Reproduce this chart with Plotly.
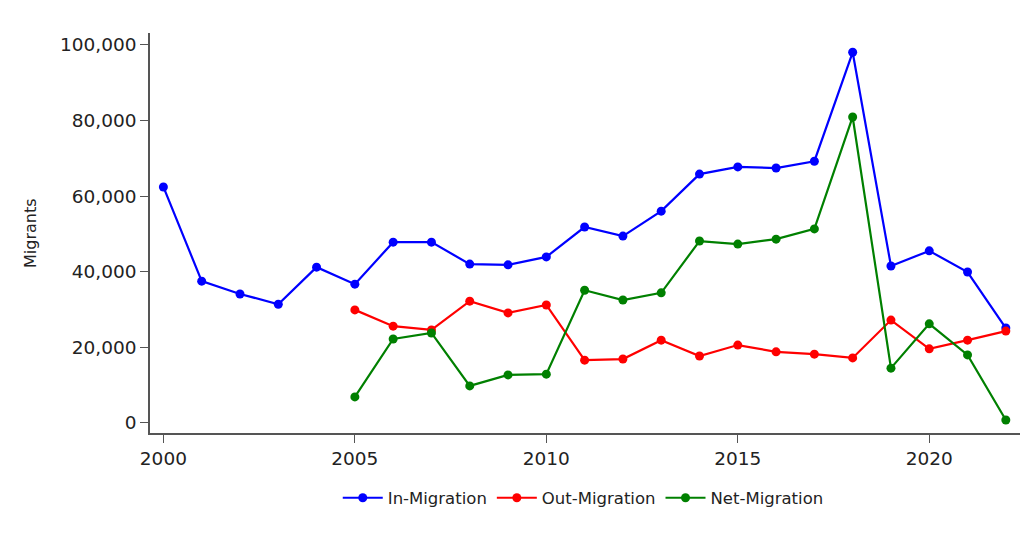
import plotly.graph_objects as go

years_in = list(range(2000, 2023))
in_migration = [62400, 37500, 34100, 31400, 41200, 36700, 47800, 47800, 42000, 41800,
                43900, 51800, 49400, 56000, 65800, 67700, 67400, 69200, 98000, 41500,
                45500, 39900, 25100]

years_out = list(range(2005, 2023))
out_migration = [29900, 25600, 24600, 32200, 29100, 31200, 16600, 16900, 21900, 17700,
                 20600, 18800, 18200, 17200, 27200, 19600, 21900, 24300]

net_migration = [6900, 22200, 23800, 9800, 12700, 12900, 35100, 32500, 34400, 48100,
                 47300, 48600, 51300, 80900, 14500, 26200, 18000, 800]

x_ticks = [2000, 2005, 2010, 2015, 2020]
y_ticks = [0, 20000, 40000, 60000, 80000, 100000]

FONT = "DejaVu Sans"

fig = go.Figure()
series = [
    ("In-Migration", years_in, in_migration, "#0000FF"),
    ("Out-Migration", years_out, out_migration, "#FF0000"),
    ("Net-Migration", years_out, net_migration, "#008000"),
]
for name, xs, ys, col in series:
    fig.add_trace(go.Scatter(
        x=xs, y=ys, name=name, mode="lines+markers",
        line=dict(color=col, width=2.2),
        marker=dict(color=col, size=9),
    ))

axis_col = "#555555"
fig.update_layout(
    width=1021, height=525,
    margin=dict(l=142, r=9, t=25, b=100),
    paper_bgcolor="white", plot_bgcolor="white",
    font=dict(family=FONT, color="#222222"),
    showlegend=True,
    legend=dict(orientation="h", x=0.498, xanchor="center", y=-0.1625, yanchor="middle",
                font=dict(size=16.5, family=FONT, color="#222222"), itemwidth=40,
                traceorder="normal"),
    xaxis=dict(range=[1999.65, 2022.37], tickvals=x_ticks, showgrid=False, zeroline=False,
               showline=True, linecolor=axis_col, linewidth=1.5,
               ticks="outside", ticklen=8, tickcolor=axis_col, tickwidth=1.2,
               tickfont=dict(size=18.5, family=FONT, color="#222222")),
    yaxis=dict(range=[-2650, 103100], tickvals=y_ticks, tickformat=",", showgrid=False,
               zeroline=False, showline=True, linecolor=axis_col, linewidth=1.5,
               ticks="outside", ticklen=8, tickcolor=axis_col, tickwidth=1.2,
               tickfont=dict(size=18.5, family=FONT, color="#222222")),
    annotations=[dict(text="Migrants", xref="paper", yref="paper",
                      x=-0.138, y=0.5, xanchor="center", yanchor="middle",
                      textangle=-90, showarrow=False,
                      font=dict(size=16, family=FONT, color="#222222"))],
)

fig.write_html("out.html")
